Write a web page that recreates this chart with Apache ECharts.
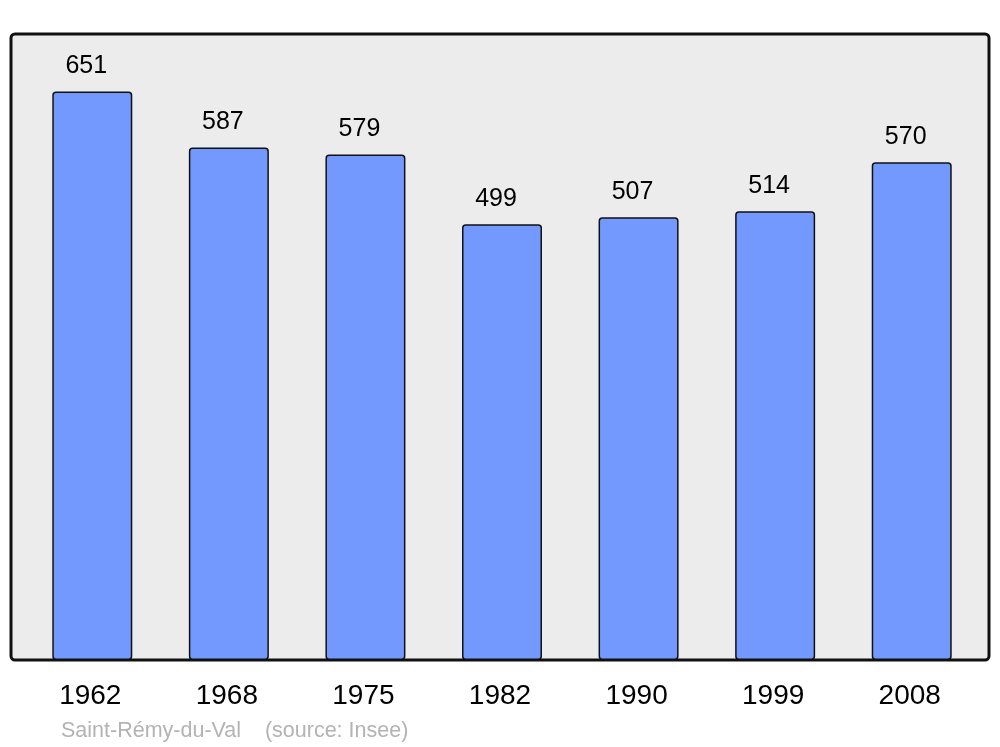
<!DOCTYPE html>
<html>
<head>
<meta charset="utf-8">
<script src="https://cdn.jsdelivr.net/npm/echarts@6/dist/echarts.min.js"></script>
<style>html,body{margin:0;padding:0;background:#fff;}#c{width:1000px;height:747px;}</style>
</head>
<body>
<div id="c"></div>
<script>
const years = ['1962', '1968', '1975', '1982', '1990', '1999', '2008'];
const population = [651, 587, 579, 499, 507, 514, 570];
const footer = 'Saint-Rémy-du-Val    (source: Insee)';

const chart = echarts.init(document.getElementById('c'), null, {renderer: 'canvas'});
chart.setOption({
  animation: false,
  backgroundColor: '#ffffff',
  graphic: [{
    type: 'rect', z: 0,
    shape: {x: 11, y: 34, width: 978, height: 626, r: 4},
    style: {fill: '#ececec', stroke: '#111111', lineWidth: 3}
  }],
  title: {
    text: footer, left: 61, top: 720, padding: 0,
    textStyle: {color: '#b3b3b3', fontSize: 21.5, fontWeight: 'normal', fontFamily: 'Liberation Sans, Arial, sans-serif'}
  },
  grid: {left: 24, right: 20, top: 34, bottom: 87, containLabel: false},
  xAxis: {
    type: 'category', data: years,
    axisLine: {show: false}, axisTick: {show: false},
    axisLabel: {fontSize: 28, color: '#000', margin: 22, padding: [0, 4, 0, 0], fontFamily: 'Liberation Sans, Arial, sans-serif'}
  },
  yAxis: {
    type: 'value', min: 0, max: 717,
    show: false, splitLine: {show: false}
  },
  series: [{
    type: 'bar', data: population, barWidth: 80, z: 3,
    itemStyle: {color: '#7399ff', borderColor: '#111111', borderWidth: 1.5, borderRadius: 3},
    label: {
      show: true, position: 'top', distance: 13, offset: [-6, 0],
      fontSize: 25, color: '#000', fontFamily: 'Liberation Sans, Arial, sans-serif'
    }
  }]
});
</script>
</body>
</html>
